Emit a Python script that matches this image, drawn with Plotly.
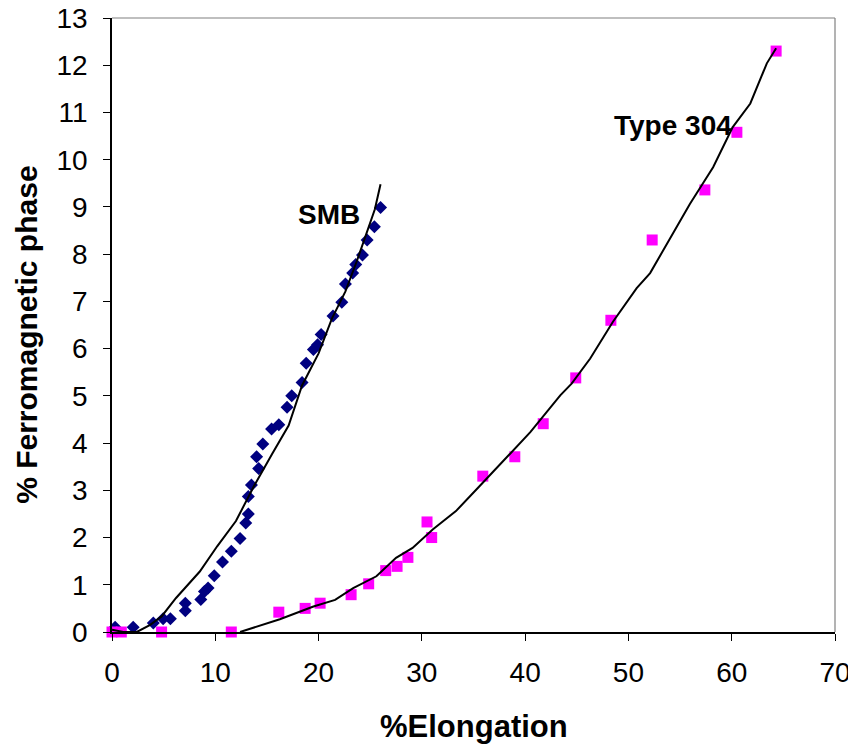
import plotly.graph_objects as go

# SMB measured points
smb_x = [0.3, 2.05, 4.0, 4.95, 5.65, 7.1, 7.1, 8.6, 8.95, 9.3, 9.9, 10.7, 11.55, 12.4,
         12.95, 13.2, 13.2, 13.5, 14.2, 14.0, 14.6, 15.45, 16.15, 16.95, 17.4, 18.4,
         18.8, 19.5, 19.9, 20.25, 21.4, 22.25, 22.6, 23.3, 23.6, 24.25, 24.7, 25.4, 26.0]
smb_y = [0.1, 0.1, 0.19, 0.28, 0.28, 0.45, 0.61, 0.69, 0.86, 0.93, 1.19, 1.48, 1.71, 1.98,
         2.31, 2.5, 2.87, 3.11, 3.46, 3.71, 3.98, 4.3, 4.39, 4.76, 5.0, 5.28,
         5.69, 5.98, 6.08, 6.3, 6.69, 6.98, 7.37, 7.6, 7.78, 7.98, 8.3, 8.58, 8.99]

# Type 304 measured points
t304_x = [0, 0.9, 4.8, 11.55, 16.15, 18.7, 20.15, 23.15, 24.85, 26.5, 27.6, 28.65,
          30.5, 30.95, 35.9, 39.0, 41.75, 44.9, 48.3, 52.3, 57.4, 60.5, 64.3]
t304_y = [0, 0, 0, 0, 0.42, 0.5, 0.61, 0.79, 1.02, 1.3, 1.39, 1.58,
          2.33, 2.0, 3.3, 3.71, 4.41, 5.38, 6.6, 8.3, 9.36, 10.58, 12.3]

# Fitted curves
smb_fit_x = [0, 1.1, 2.4, 3.7, 4.8, 5.3, 6.2, 8.5, 10.2, 12.0, 13.75, 15.5, 17.1,
             18.4, 20.0, 21.3, 22.6, 23.7, 24.5, 25.45, 26.0]
smb_fit_y = [0.05, 0, 0, 0.15, 0.33, 0.47, 0.72, 1.28, 1.82, 2.35, 3.09, 3.77, 4.37,
             5.22, 5.9, 6.64, 7.21, 7.85, 8.35, 8.95, 9.48]

t304_fit_x = [12.4, 16.25, 19.5, 21.6, 23.35, 25.6, 27.5, 29.1, 31.05, 33.3, 35.6,
              37.9, 40.5, 43.4, 44.5, 46.3, 48.5, 50.8, 52.1, 55.95, 58.2, 60.1,
              61.8, 63.4, 64.3]
t304_fit_y = [0, 0.27, 0.54, 0.68, 0.93, 1.18, 1.57, 1.78, 2.17, 2.56, 3.09,
              3.63, 4.23, 5.01, 5.26, 5.79, 6.57, 7.28, 7.6, 9.06, 9.84, 10.69,
              11.19, 12.04, 12.36]

x_ticks = [0, 10, 20, 30, 40, 50, 60, 70]
y_ticks = list(range(0, 14))

FONT = "Liberation Sans, Arial, sans-serif"

fig = go.Figure()
fig.add_trace(go.Scatter(x=smb_x, y=smb_y, mode="markers",
                         marker=dict(symbol="diamond", size=10, color="#000080"),
                         cliponaxis=False, showlegend=False))
fig.add_trace(go.Scatter(x=t304_x, y=t304_y, mode="markers",
                         marker=dict(symbol="square", size=11, color="#FF00FF"),
                         cliponaxis=False, showlegend=False))
fig.add_trace(go.Scatter(x=smb_fit_x, y=smb_fit_y, mode="lines",
                         line=dict(color="black", width=2),
                         cliponaxis=False, showlegend=False))
fig.add_trace(go.Scatter(x=t304_fit_x, y=t304_fit_y, mode="lines",
                         line=dict(color="black", width=2),
                         cliponaxis=False, showlegend=False))

fig.update_layout(
    width=848, height=739,
    margin=dict(l=104, r=21, t=10, b=115, autoexpand=False),
    paper_bgcolor="white", plot_bgcolor="white",
    font=dict(family=FONT, color="black"),
    shapes=[
        dict(type="line", xref="paper", yref="paper", x0=0, y0=1, x1=1, y1=1,
             line=dict(color="#808080", width=1.2), layer="above"),
        dict(type="line", xref="paper", yref="paper", x0=1, y0=0, x1=1, y1=1,
             line=dict(color="#808080", width=1.2), layer="above"),
    ],
    annotations=[
        dict(text="SMB", x=21.0, y=8.85, xref="x", yref="y", showarrow=False,
             xanchor="center", yanchor="middle",
             font=dict(size=28, family=FONT, weight="bold")),
        dict(text="Type 304", x=54.3, y=10.72, xref="x", yref="y", showarrow=False,
             xanchor="center", yanchor="middle",
             font=dict(size=28, family=FONT, weight="bold")),
        dict(text="%Elongation", x=0.5, y=-0.1547, xref="paper", yref="paper",
             xanchor="center", yanchor="middle",
             showarrow=False, font=dict(size=31, family=FONT, weight="bold")),
        dict(text="% Ferromagnetic phase", x=-0.1175, y=0.484, xref="paper", yref="paper",
             xanchor="center", yanchor="middle",
             showarrow=False, textangle=-90,
             font=dict(size=30, family=FONT, weight="bold")),
    ],
)
fig.update_xaxes(range=[0, 70], tickvals=x_ticks, ticks="outside", ticklen=7,
                 tickcolor="black", showline=True, linecolor="black", linewidth=1.5,
                 showgrid=False, zeroline=False, tickfont=dict(size=28, family=FONT),
                 ticklabelstandoff=8, automargin=False, ticklabeloverflow="allow")
fig.update_yaxes(range=[0, 13], tickvals=y_ticks, ticks="outside", ticklen=7,
                 tickcolor="black", showline=True, linecolor="black", linewidth=1.5,
                 showgrid=False, zeroline=False, tickfont=dict(size=28, family=FONT),
                 ticklabelstandoff=10, automargin=False, ticklabeloverflow="allow")

fig.write_html("out.html")
